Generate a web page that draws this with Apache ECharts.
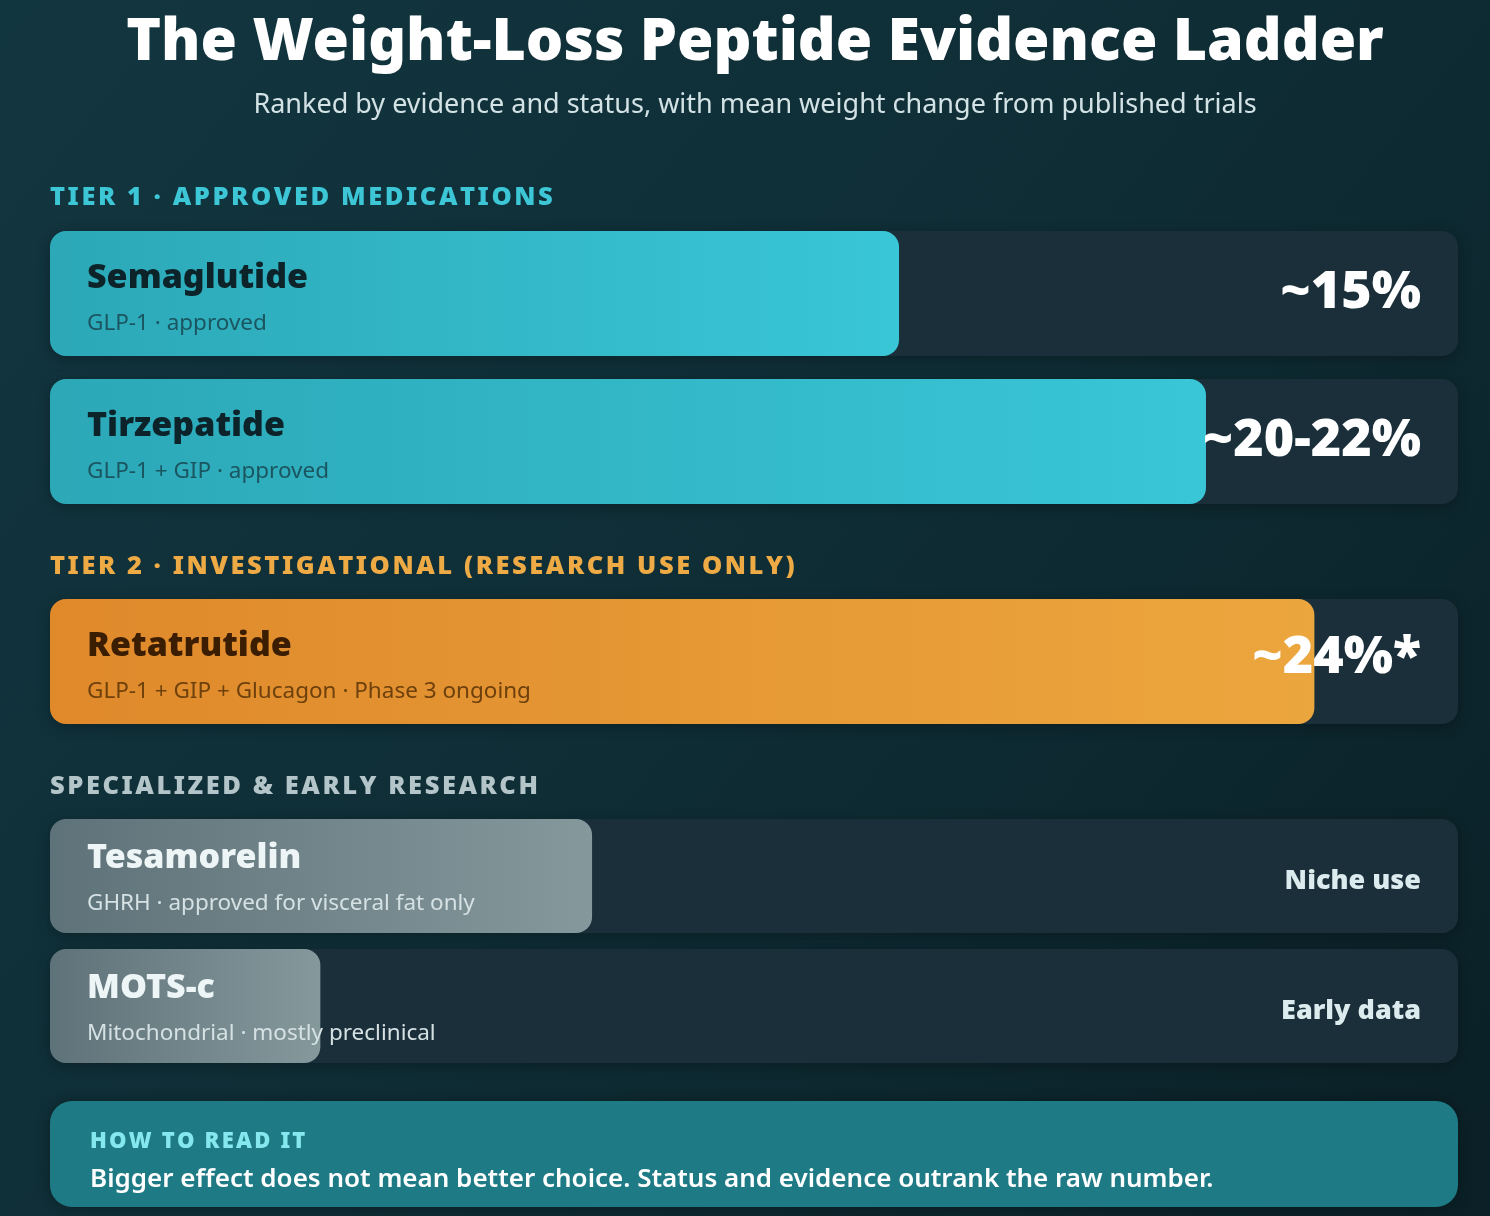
<!DOCTYPE html>
<html>
<head>
<meta charset="utf-8">
<script src="https://cdn.jsdelivr.net/npm/echarts@6/dist/echarts.min.js"></script>
<style>
  html, body { margin: 0; padding: 0; background: #0e2a31; }
  #chartWrapper { width: 1490px; height: 1216px; }
</style>
</head>
<body>
<div id="chartWrapper"></div>
<script>
// 資料
const drugs = ["Semaglutide", "Tirzepatide", "Retatrutide", "Tesamorelin", "MOTS-c"];
const details = [
  "GLP-1 · approved",
  "GLP-1 + GIP · approved",
  "GLP-1 + GIP + Glucagon · Phase 3 ongoing",
  "GHRH · approved for visceral fat only",
  "Mitochondrial · mostly preclinical"
];
const fillPct = [60.3, 82.1, 89.8, 38.5, 19.2]; // 條長 (軌道 %)
const trackPct = [100, 100, 100, 100, 100];
const valueLabels = ["~15%", "~20-22%", "~24%*", "Niche use", "Early data"];
const rowGroup = ["tier1", "tier1", "tier2", "early", "early"];
const sectionLabels = ["TIER 1 · APPROVED MEDICATIONS", "TIER 2 · INVESTIGATIONAL (RESEARCH USE ONLY)", "SPECIALIZED & EARLY RESEARCH"];

const HEAVY = "'Noto Sans', 'Open Sans', sans-serif";
const BODY = "'Noto Sans', 'Open Sans', sans-serif";

// 版面
const rowTops = [231, 379, 599, 819, 949];
const rowHeights = [125, 125, 125, 114, 114];
const sectionY = [198, 567, 787];

const groupStyle = {
  tier1: {
    fill: new echarts.graphic.LinearGradient(0, 0, 1, 0, [
      { offset: 0, color: "#2ca8b7" }, { offset: 1, color: "#39c6d7" }]),
    name: "#0c2329", sub: "#1a5560", value: "#ffffff", valueSize: 52, valueDy: 0
  },
  tier2: {
    fill: new echarts.graphic.LinearGradient(0, 0, 1, 0, [
      { offset: 0, color: "#df892b" }, { offset: 1, color: "#eca63e" }]),
    name: "#3b1e02", sub: "#6d400c", value: "#ffffff", valueSize: 52, valueDy: -3
  },
  early: {
    fill: new echarts.graphic.LinearGradient(0, 0, 1, 0, [
      { offset: 0, color: "#5e7279" }, { offset: 1, color: "#85989c" }]),
    name: "#eef5f6", sub: "#d5e1e3", value: "#dcebed", valueSize: 27, valueDy: 5
  }
};
const sectionColors = ["#3cc6d6", "#eeaa44", "#b3c5c9"];

const myChart = echarts.init(document.getElementById("chartWrapper"));

let grids = [], xAxes = [], yAxes = [], series = [];
drugs.forEach((name, i) => {
  const st = groupStyle[rowGroup[i]];
  const tall = rowHeights[i] > 120;
  grids.push({ left: 50, width: 1408, top: rowTops[i], height: rowHeights[i] });
  xAxes.push({ gridIndex: i, type: "value", min: 0, max: 100, show: false });
  yAxes.push({ gridIndex: i, type: "category", data: [name], show: false });
  // 軌道
  series.push({
    type: "bar",
    xAxisIndex: i, yAxisIndex: i,
    barWidth: "100%",
    barGap: "-100%",
    z: 1,
    data: [trackPct[i]],
    itemStyle: {
      color: "#1a2f39", borderRadius: 16,
      shadowBlur: 14, shadowColor: "rgba(0,0,0,0.28)", shadowOffsetY: 3
    },
    silent: true
  });
  // 填充條
  series.push({
    type: "bar",
    xAxisIndex: i, yAxisIndex: i,
    barWidth: "100%",
    barGap: "-100%",
    z: 2,
    data: [fillPct[i]],
    itemStyle: { color: st.fill, borderRadius: 16 },
    label: {
      show: true,
      position: [37, tall ? 23 : 15],
      align: "left",
      verticalAlign: "top",
      formatter: () => `{n|${name}}\n{s|${details[i]}}`,
      rich: {
        n: { fontFamily: HEAVY, fontWeight: 900, fontSize: 34, color: st.name, lineHeight: 48 },
        s: { fontFamily: BODY, fontSize: 22.5, color: st.sub, lineHeight: 44 }
      }
    },
    silent: true
  });
  // 數值標籤
  series.push({
    type: "bar",
    xAxisIndex: i, yAxisIndex: i,
    barWidth: "100%",
    barGap: "-100%",
    z: 3,
    data: [trackPct[i]],
    itemStyle: { color: "rgba(0,0,0,0)" },
    label: {
      show: true,
      position: "insideRight",
      distance: 37,
      offset: [0, st.valueDy],
      formatter: valueLabels[i],
      fontFamily: HEAVY, fontWeight: 900,
      fontSize: st.valueSize, color: st.value,
      textBorderWidth: 0, opacity: 1
    },
    silent: true
  });
});

let graphics = [
  {
    type: "text", x: 755, y: 14,
    style: { text: "The Weight-Loss Peptide Evidence Ladder", font: `900 59px ${HEAVY}`, fill: "#ffffff", align: "center", verticalAlign: "top" }
  },
  {
    type: "text", x: 755, y: 92,
    style: { text: "Ranked by evidence and status, with mean weight change from published trials", font: `400 27px ${BODY}`, fill: "#d3e2e5", align: "center", verticalAlign: "top" }
  }
];
sectionLabels.forEach((txt, k) => {
  graphics.push({
    type: "text", x: 50, y: sectionY[k],
    style: { text: txt.split("").join("\u200A"), font: `900 25.5px ${HEAVY}`, fill: sectionColors[k], verticalAlign: "middle" }
  });
});
// 底部說明框
graphics.push({
  type: "rect", shape: { x: 50, y: 1101, width: 1408, height: 106, r: 22 },
  style: { fill: "#1e7a85", shadowBlur: 14, shadowColor: "rgba(0,0,0,0.3)" }
});
graphics.push({
  type: "text", x: 90, y: 1142,
  style: { text: "HOW TO READ IT".split("").join("\u200A"), font: `900 22px ${HEAVY}`, fill: "#86e8ef", verticalAlign: "middle" }
});
graphics.push({
  type: "text", x: 90, y: 1180,
  style: { text: "Bigger effect does not mean better choice. Status and evidence outrank the raw number.", font: `600 26px ${BODY}`, fill: "#ffffff", verticalAlign: "middle" }
});

let option = {
  backgroundColor: new echarts.graphic.LinearGradient(0, 0, 1, 1, [
    { offset: 0, color: "#123640" }, { offset: 0.5, color: "#0f2d35" }, { offset: 1, color: "#0a2026" }]),
  animation: false,
  grid: grids,
  xAxis: xAxes,
  yAxis: yAxes,
  series: series,
  graphic: graphics
};
myChart.setOption(option);
</script>
</body>
</html>
